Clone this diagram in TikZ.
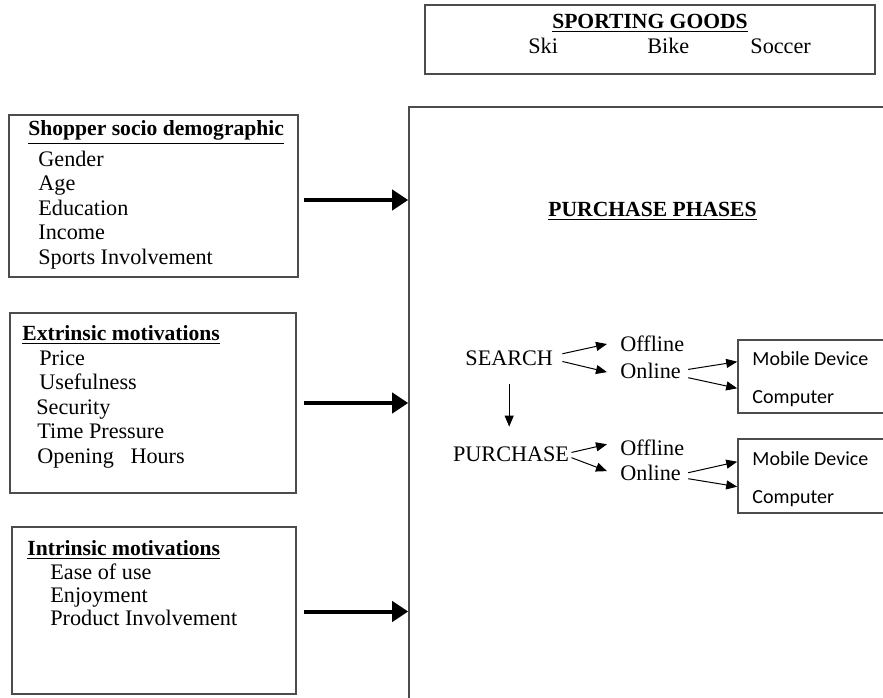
\documentclass[tikz,border=0pt]{standalone}
\usepackage{fontspec}
\setmainfont{Liberation Serif}
\newfontfamily\carlito{Carlito}
\usetikzlibrary{arrows.meta, fit, calc}

\begin{document}
\begin{tikzpicture}[x=0.5pt, y=-0.5pt,
    box/.style={draw=black!70, line width=0.8pt, inner sep=0pt},
    txt/.style={anchor=base west, inner sep=0pt, font=\fontsize{11.1}{13}\selectfont},
    head/.style={txt, font=\fontsize{10.8}{13}\selectfont\bfseries},
    dev/.style={txt, font=\fontsize{10}{12}\selectfont\carlito},
    feed/.style={line width=2pt, -{Triangle[length=8pt, width=10pt]}},
    flow/.style={line width=0.5pt, -{Triangle[length=5.5pt, width=4.5pt]}}]
    \useasboundingbox (0,0) rectangle (883,697);
    \clip (0,0) rectangle (883,697);

    % Boxes
    \node[box, fit={(425,5) (875,74)}] (goods) {};
    \node[box, fit={(409,107) (900,720)}] (phases) {};
    \node[box, fit={(9,115) (298,277)}] (socio) {};
    \node[box, fit={(10,313) (296,493)}] (extr) {};
    \node[box, fit={(12,527) (296,694)}] (intr) {};
    \node[box, fit={(738,340) (900,413)}] (dev1) {};
    \node[box, fit={(738,439) (900,513)}] (dev2) {};

    % Sporting goods
    \node[head, anchor=base] (goodstitle) at (650,28.3) {\underline{SPORTING GOODS}};
    \node[txt] (ski) at (528,53.3) {Ski};
    \node[txt] (bike) at (647,53.3) {Bike};
    \node[txt] (soccer) at (750,53.3) {Soccer};

    % Shopper socio demographic
    \node[head] (sociotitle) at (28,135.7) {\underline{Shopper socio demographic}};
    \foreach \t [count=\i] in {Gender, Age, Education, Income, Sports Involvement}
        \node[txt] at (38, 142+24.4*\i) {\t};

    % Extrinsic motivations
    \node[head] (extrtitle) at (22,340.7) {\underline{Extrinsic motivations}};
    \foreach \x/\t [count=\i] in {39/Price, 39/Usefulness, 36/Security, 37/Time Pressure, 37/Opening\ \ \ Hours}
        \node[txt] at (\x, 340.7+24.5*\i) {\t};

    % Intrinsic motivations
    \node[head] (intrtitle) at (27,555.7) {\underline{Intrinsic motivations}};
    \foreach \t [count=\i] in {Ease of use, Enjoyment, Product Involvement}
        \node[txt] at (50, 555.7+23.3*\i) {\t};

    % Purchase phases
    \node[head, anchor=base] (phtitle) at (652.5,216) {\underline{PURCHASE PHASES}};
    \node[txt] (search) at (465,365) {SEARCH};
    \node[txt] (purchase) at (452.7,461.7) {PURCHASE};
    \node[txt] (off1) at (620,351.7) {Offline};
    \node[txt] (on1) at (620,378) {Online};
    \node[txt] (off2) at (620,455) {Offline};
    \node[txt] (on2) at (620,480) {Online};
    \node[dev] (mob1) at (752,365) {Mobile Device};
    \node[dev] (comp1) at (752,403.3) {Computer};
    \node[dev] (mob2) at (752,465) {Mobile Device};
    \node[dev] (comp2) at (752,503.3) {Computer};

    % Thick arrows
    \draw[feed] ($(socio.east)+(5,4)$) -- ($(socio.east -| phases.west)+(0,4)$);
    \draw[feed] ($(extr.east)+(7,0)$) -- (extr.east -| phases.west);
    \draw[feed] ($(intr.east)+(7,1)$) -- ($(intr.east -| phases.west)+(0,1)$);

    % Thin arrows
    \draw[flow] ($(search.east)+(9,-4)$) -- ($(off1.west)+(-13,0)$);
    \draw[flow] ($(search.east)+(9,3.7)$) -- ($(on1.west)+(-13,1.7)$);
    \draw[flow] ([yshift=-9pt]search.south) -- ([yshift=10pt]search.south |- purchase.north);
    \draw[flow] ($(purchase.east)+(2,-2)$) -- ($(off2.west)+(-13,-3)$);
    \draw[flow] ($(purchase.east)+(2,3.2)$) -- ($(on2.west)+(-13,-1.3)$);
    \draw[flow] ($(on1.east)+(7,-1)$) -- ($(dev1.west)+(0,-14.8)$);
    \draw[flow] ($(on1.east)+(7,7.3)$) -- ($(dev1.west)+(0,11.8)$);
    \draw[flow] ($(on2.east)+(7,0.3)$) -- ($(dev2.west)+(0,-14.3)$);
    \draw[flow] ($(on2.east)+(7,6.3)$) -- ($(dev2.west)+(0,10.7)$);
\end{tikzpicture}
\end{document}
